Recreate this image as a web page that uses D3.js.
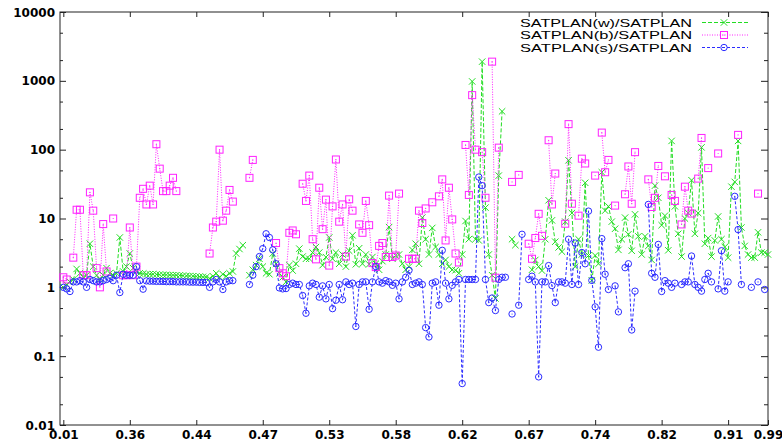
<!DOCTYPE html>
<meta charset="utf-8">
<style>
  body { margin: 0; background: #fff; }
  svg text { font-family: "DejaVu Sans", sans-serif; }
</style>
<div id="chart"></div>
<script src="https://d3js.org/d3.v7.min.js"></script>
<script>

// instance index -> tick label (ratio)
const xTickIdx    = [0, 20, 40, 60, 80, 100, 120, 140, 160, 180, 200, 212];
const xTickLabels = ["0.01", "0.36", "0.44", "0.47", "0.53", "0.58", "0.62", "0.67", "0.74", "0.82", "0.91", "0.99"];
const yTicks      = [0.01, 0.1, 1, 10, 100, 1000, 10000];
const yMinor      = [0.02, 0.05, 0.2, 0.5, 2, 5, 20, 50, 200, 500, 2000, 5000];
const seriesNames = ["SATPLAN(w)/SATPLAN", "SATPLAN(b)/SATPLAN", "SATPLAN(s)/SATPLAN"];

// SATPLAN(w)/SATPLAN, one value per instance
const satW = [
  1.0, 1.1, 1.2, 1.3, 1.85, 1.6, 1.4, 1.5, 4.3, 2.0,
  1.5, 1.3, 1.5, 1.9, 1.6, 1.5, 1.6, 5.3, 1.7, 2.0,
  3.1, 1.9, 1.7, 1.6, 1.58, 1.55, 1.55, 1.55, 1.54, 1.53,
  1.52, 1.52, 1.51, 1.5, 1.5, 1.49, 1.48, 1.47, 1.46, 1.45,
  1.44, 1.43, 1.42, 1.41, 1.35, 1.45, 1.6, 1.4, 1.55, 1.45,
  1.6, 1.7, 3.1, 3.6, 4.1, null, 1.5, 1.8, 2.1, 2.6,
  2.0, 1.6, 1.55, 3.1, 2.2, 1.6, 1.4, 1.2, 2.1, 1.75,
  2.2, 3.65, 2.8, 2.6, 2.6, 3.2, 3.85, 3.2, 2.1, 2.75,
  5.3, 2.6, 3.2, 2.2, 3.0, 2.0, 3.4, 5.7, 2.16, 3.7,
  2.2, 3.0, 2.16, 2.76, 2.2, 1.8, 2.4, 3.0, 7.5, 2.6,
  2.9, 3.0, 2.2, 1.8, 2.0, 3.5, 4.3, 2.2, 10.3, 5.0,
  3.0, 7.3, 3.85, 3.0, 2.2, 2.5, 2.0, 1.8, 1.77, 1.6,
  3.0, 9.2, 5.0, 980, 5.0, 4.8, 1900, 14.4, 3.0, 1.5,
  0.69, 42, 360, null, null, 5.0, 4.1, null, null, null,
  null, 1.8, 2.5, 2.0, 1.75, 5.0, 18.4, 9.4, 4.6, 3.8,
  3.3, 9.0, 70, 12, 2.0, 5.0, 3.0, 33, 2.9, 1.26,
  2.9, 2.2, 47, 13, 15, 9, 7.1, 3.5, 5, 10.3,
  5.9, 3.4, 11.5, 5.5, 3, 5.5, 4, 2.5, 30, 20,
  8, 11, 3.45, 134, 15, 6, 2.8, 10, 12, 36,
  6.0, 12, 108, 4.3, 5.2, 2.8, 4.8, 10.7, 5, 3.85,
  2.7, 29, 34, 134, 7.4, 4, 3, 2.7, 2.7, 6.3,
  3.2, 3.2, 3.0
];

// SATPLAN(b)/SATPLAN
const satB = [
  1.4, 1.3, null, 2.7, 13.4, 13.4, 1.5, 1.5, 24, 13,
  1.9, 1.0, 8.3, 1.7, null, 10, null, null, 1.5, 1.5,
  7.4, 1.5, 2.0, 20, 27, 16, 30, 16, 120, 53,
  25, 25, 30, 39, 25, null, null, null, null, null,
  null, null, null, null, 3.1, 7.4, 9, 100, 9.3, 13,
  26, 17.6, null, null, null, null, 39, 71, null, null,
  null, null, null, null, 4.4, 1.9, 1.6, 1.45, 6.2, 6.7,
  5.9, null, 32, 18, 42, 5.0, 2.55, 28, 7, 18.8,
  2.07, 15, 72, 9, 16, 2.8, 19, 13, null, 8.2,
  6.2, 18, 8.0, 2.25, 1.97, 4.0, 4.4, 2.76, 21.5, 2.76,
  2.9, 23, null, null, 2.6, 2.6, 2.6, 13, 8.6, 14,
  null, 17.2, null, 21, 37, 4.8, 28, 9.7, 3.1, 2.3,
  null, 117, 22, 620, 100, null, 92, 20, null, 1900,
  1.38, 107, null, null, null, 34, null, 43, null, null,
  4.3, 2.6, 5.2, 11.7, 5.6, null, 137, 16, 45, null,
  null, 8.4, 235, 16.4, null, 11, 74, 63, null, null,
  42, null, 177, 47, 71, null, 15.4, null, null, 22.5,
  57, 16.4, 92, null, null, null, 37, 14.7, 20, 58,
  null, 41, null, 22, 18, null, 8.2, 29, 13, 11.8,
  null, 38, 148, null, 54, null, null, 88, null, null,
  null, null, null, 164, null, null, null, null, null, 23,
  null, null, null
];

// SATPLAN(s)/SATPLAN
const satS = [
  1.0, 0.95, 0.87, 1.2, 1.2, 1.25, 1.2, 1.0, 1.3, 1.25,
  1.2, 1.2, 1.25, 1.3, 1.35, 1.25, 1.5, 0.84, 1.55, 1.5,
  1.5, 1.5, 2.0, 1.25, 0.94, 1.24, 1.23, 1.23, 1.22, 1.22,
  1.22, 1.21, 1.21, 1.21, 1.2, 1.2, 1.2, 1.2, 1.19, 1.19,
  1.19, 1.18, 1.18, 1.18, 1.0, 1.2, 1.3, 1.2, 0.93, 1.2,
  1.25, 1.25, null, null, null, null, 1.1, 1.5, 2.0, 2.8,
  3.65, 6.0, 5.3, 3.5, 2.2, 0.98, 0.95, 0.96, 1.1, 1.15,
  1.1, 1.1, 0.76, 0.42, 1.05, 1.15, 1.1, 0.72, 1.05, 0.68,
  1.1, 0.49, 0.65, 1.1, 0.66, 1.2, 1.1, 1.15, 0.27, 1.1,
  1.2, 1.2, 0.48, 1.2, 2.0, 1.2, 1.15, 1.25, 1.2, 1.07,
  1.15, 0.68, 1.2, 1.4, 1.77, 1.1, 1.15, 1.2, 1.1, 0.26,
  0.19, 1.15, 1.2, 0.55, 3.45, 1.15, 0.68, 1.07, 1.2, 1.3,
  0.04, 1.3, 1.3, 1.3, 1.3, 40, 30, 1.3, 0.6, 0.7,
  0.46, 1.3, 1.4, 1.4, null, 0.41, null, 0.55, 5.9, null,
  1.3, 1.45, 1.2, 0.05, 1.2, 1.2, 2.07, 1.06, 0.6, 1.2,
  1.2, 1.15, 5.0, 1.1, 4.4, 1.1, 3.2, 2.2, 12.8, 1.26,
  0.52, 0.135, 5.1, 1.55, 0.93, null, 1.05, 0.44, null, 1.93,
  2.2, 0.24, 0.88, null, null, null, 16, 1.6, 1.4, 4.2,
  0.87, 1.25, 1.15, 1.0, 1.15, null, 1.1, 1.2, 1.2, 2.85,
  1.1, 1.0, 0.88, 1.3, 1.6, 1.2, null, 0.95, 3.4, 0.88,
  1.2, null, 21, 6.9, 1.1, null, null, 1.0, null, 1.2,
  null, 0.93, null
];

const width = 782, height = 444;
const m = {left: 60, right: 14, top: 12, bottom: 19};

const x = d3.scaleLinear().domain([-1, 212]).range([m.left, width - m.right]);
const y = d3.scaleLog().domain([0.01, 10000]).range([height - m.bottom, m.top]);

const svg = d3.select("#chart").append("svg")
    .attr("width", width).attr("height", height);

// axes: ticks point inward, mirrored on top / right
const gx = svg.append("g").attr("transform", `translate(0,${height - m.bottom})`)
    .call(d3.axisBottom(x).tickValues(xTickIdx).tickFormat((d, i) => xTickLabels[i]).tickSize(-5).tickPadding(5));
svg.append("g").attr("transform", `translate(0,${m.top})`)
    .call(d3.axisTop(x).tickValues(xTickIdx).tickFormat("").tickSize(-5));
const gy = svg.append("g").attr("transform", `translate(${m.left},0)`)
    .call(d3.axisLeft(y).tickValues(yTicks).tickFormat(d3.format("~g")).tickSize(-6).tickPadding(5));
svg.append("g").attr("transform", `translate(${m.left},0)`)
    .call(d3.axisLeft(y).tickValues(yMinor).tickFormat("").tickSize(-3));
svg.append("g").attr("transform", `translate(${width - m.right},0)`)
    .call(d3.axisRight(y).tickValues(yTicks).tickFormat("").tickSize(-7));
svg.append("g").attr("transform", `translate(${width - m.right},0)`)
    .call(d3.axisRight(y).tickValues(yMinor).tickFormat("").tickSize(-4));

svg.selectAll(".domain").remove();
svg.selectAll(".tick line").attr("stroke", "#222");
svg.selectAll(".tick text")
    .attr("fill", "#000")
    .style("font-size", "12px")
    .style("font-weight", "bold");
gy.selectAll(".tick text").attr("dy", "0.34em");
gx.selectAll(".tick text").attr("dy", "0.72em");

svg.append("rect")
    .attr("x", m.left).attr("y", m.top)
    .attr("width", width - m.left - m.right)
    .attr("height", height - m.top - m.bottom)
    .attr("fill", "none").attr("stroke", "#222").attr("stroke-width", 1);

const series = [
    {name: seriesNames[0], values: satW, color: "#22dd22", dash: "4,2", mark: "cross"},
    {name: seriesNames[1], values: satB, color: "#ff22ff", dash: "1,1.5", mark: "square"},
    {name: seriesNames[2], values: satS, color: "#2b2bff", dash: "3,2", mark: "circle"}
];

const line = d3.line()
    .defined(d => d != null)
    .x((d, i) => x(i))
    .y(d => y(d));

function drawMark(g, s) {
    if (s.mark === "cross") {
        g.append("path").attr("d", "M-3.2,-3.2L3.2,3.2M-3.2,3.2L3.2,-3.2")
            .attr("stroke", s.color).attr("stroke-width", 1).attr("fill", "none");
    } else if (s.mark === "square") {
        g.append("rect").attr("x", -3.5).attr("y", -3.5).attr("width", 7).attr("height", 7)
            .attr("stroke", s.color).attr("stroke-width", 1).attr("fill", "none");
        g.append("circle").attr("r", 0.6).attr("fill", s.color);
    } else {
        g.append("circle").attr("r", 3.2)
            .attr("stroke", s.color).attr("stroke-width", 1).attr("fill", "none");
        g.append("circle").attr("r", 0.6).attr("fill", s.color);
    }
}

series.forEach(s => {
    svg.append("path")
        .attr("d", line(s.values))
        .attr("fill", "none")
        .attr("stroke", s.color)
        .attr("stroke-width", 1)
        .attr("stroke-dasharray", s.dash);

    svg.append("g").selectAll("g")
        .data(s.values.map((v, i) => ({i, v})).filter(d => d.v != null))
        .join("g")
        .attr("transform", d => `translate(${x(d.i)},${y(d.v)})`)
        .each(function() { drawMark(d3.select(this), s); });
});

// legend
const legendY = [22.5, 35, 47.5];
series.forEach((s, k) => {
    const ly = legendY[k];
    svg.append("text")
        .attr("x", 520).attr("y", ly + 4)
        .attr("textLength", 172).attr("lengthAdjust", "spacingAndGlyphs")
        .style("font-family", "'Liberation Sans', Arial, sans-serif")
        .style("font-size", "11px")
        .attr("fill", "#000")
        .text(s.name);
    svg.append("line")
        .attr("x1", 702).attr("x2", 748).attr("y1", ly).attr("y2", ly)
        .attr("stroke", s.color).attr("stroke-width", 1).attr("stroke-dasharray", s.dash);
    drawMark(svg.append("g").attr("transform", `translate(724,${ly})`), s);
});

</script>
